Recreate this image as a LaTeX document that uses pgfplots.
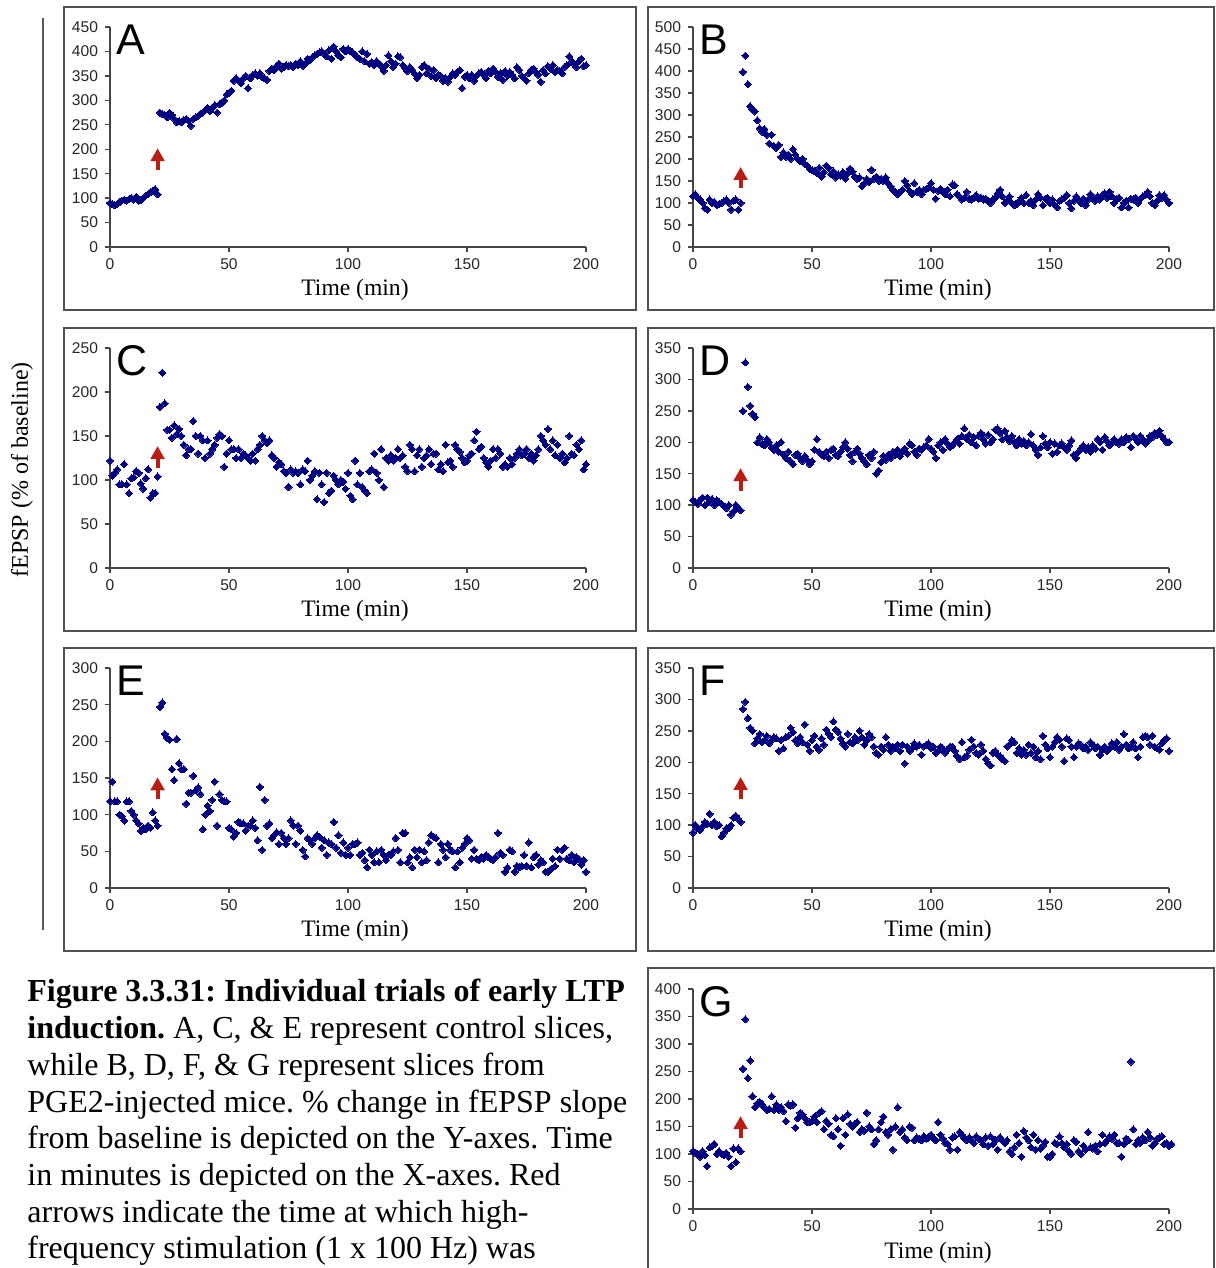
\documentclass[border=0pt]{standalone}
\usepackage{pgfplots}
\pgfplotsset{compat=1.18}
\usepackage{fontspec}
\setmainfont{Liberation Serif}
\newfontfamily\tickfont{Liberation Sans}
\usetikzlibrary{arrows.meta}
\definecolor{navy}{RGB}{0,0,128}
\definecolor{arrowred}{RGB}{185,30,20}
\definecolor{axisgray}{RGB}{70,70,70}
\definecolor{boxgray}{RGB}{80,80,80}
\pgfplotsset{
  panel/.style={
    scale only axis, width=238pt, height=110pt, anchor=south west,
    xmin=0, xmax=200, ymin=0, enlargelimits=false,
    xtick={0,50,...,200},
    axis lines*=left, clip=false,
    axis line style={draw=axisgray, line width=0.7pt},
    tick align=outside, major tick length=2.5pt,
    tick style={draw=axisgray, line width=0.7pt},
    tick label style={font=\tickfont\fontsize{7.8}{9}\selectfont, text=black!85},
    /pgf/number format/assume math mode=true,
    xlabel={Time (min)},
    xlabel style={font=\fontsize{11.8}{13}\selectfont, at={(axis description cs:0.5,0)}, anchor=base, yshift=-24.5pt, xshift=3.5pt},
  },
  pts/.style={only marks, mark=square*, mark size=1.25pt, mark options={rotate=45, fill=navy, draw=navy, line width=0pt}},
}
\newcommand{\letter}[1]{\node[anchor=base west, font=\tickfont\fontsize{21.5}{21.5}\selectfont, inner sep=0pt] at (rel axis cs:0.013,0.873) {#1};}
\newcommand{\harrow}[2]{\draw[-{Triangle[width=6.8pt,length=6.5pt]}, line width=2pt, arrowred] (axis cs:20,#1) -- (axis cs:20,#2);}
\begin{document}
\frenchspacing
\begin{tikzpicture}
\useasboundingbox (0,0) rectangle (607.5pt,634pt);
\clip (0,0) rectangle (607.5pt,634pt);
% boxes
\draw[boxgray, line width=0.9pt] (32pt,479pt) rectangle (318pt,630.5pt);
\draw[boxgray, line width=0.9pt] (324pt,479pt) rectangle (607pt,630.5pt);
\draw[boxgray, line width=0.9pt] (32pt,318.5pt) rectangle (318pt,470pt);
\draw[boxgray, line width=0.9pt] (324pt,318.5pt) rectangle (607pt,470pt);
\draw[boxgray, line width=0.9pt] (32pt,158.5pt) rectangle (318pt,310pt);
\draw[boxgray, line width=0.9pt] (324pt,158.5pt) rectangle (607pt,310pt);
\draw[boxgray, line width=0.9pt] (324pt,-5pt) rectangle (607pt,150pt);
% y label and line
\draw[black!65, line width=0.6pt] (21.5pt,169pt) -- (21.5pt,625pt);
\node[rotate=90, font=\fontsize{12}{14}\selectfont] at (11pt,399pt) {fEPSP (\% of baseline)};
% caption
\begin{scope}[every node/.style={anchor=base west, inner sep=0pt, font=\fontsize{16}{18}\selectfont}]
\node at (13.5pt,133pt) {\textbf{Figure 3.3.31: Individual trials of early LTP}};
\node at (13.5pt,114.65pt) {\textbf{induction.} A, C, \& E represent control slices,};
\node at (13.5pt,96.3pt) {while B, D, F, \& G represent slices from};
\node at (13.5pt,77.95pt) {PGE2-injected mice. \% change in fEPSP slope};
\node at (13.5pt,59.6pt) {from baseline is depicted on the Y-axes. Time};
\node at (13.5pt,41.25pt) {in minutes is depicted on the X-axes. Red};
\node at (13.5pt,22.9pt) {arrows indicate the time at which high-};
\node at (13.5pt,4.55pt) {frequency stimulation (1 x 100 Hz) was};
\end{scope}
% Panel A
\begin{axis}[panel, at={(55pt,510.5pt)}, ymax=450, ytick={0,50,...,450}]
\addplot[pts] table[header=false, x expr=\coordindex, y index=0, row sep=\\] {90\\88\\85\\88\\92\\95\\97\\95\\98\\100\\97\\103\\95\\96\\100\\105\\108\\112\\115\\118\\108\\275\\272\\270\\265\\275\\270\\262\\255\\258\\255\\260\\262\\258\\248\\262\\265\\268\\272\\275\\280\\285\\278\\285\\290\\275\\292\\295\\300\\312\\315\\320\\340\\345\\340\\335\\345\\350\\325\\345\\352\\355\\350\\355\\348\\345\\342\\360\\365\\362\\370\\375\\365\\368\\372\\370\\372\\368\\375\\372\\380\\370\\375\\385\\382\\388\\392\\395\\398\\400\\395\\390\\402\\385\\410\\400\\392\\388\\405\\400\\405\\400\\398\\392\\388\\385\\400\\380\\395\\375\\378\\372\\380\\375\\370\\360\\372\\392\\380\\368\\375\\390\\388\\372\\365\\360\\368\\362\\355\\345\\352\\368\\372\\355\\365\\350\\362\\345\\352\\350\\340\\345\\338\\348\\355\\352\\358\\362\\325\\348\\352\\345\\352\\340\\350\\355\\358\\352\\345\\360\\355\\365\\358\\348\\355\\342\\360\\350\\358\\352\\345\\368\\362\\350\\345\\340\\355\\362\\365\\358\\352\\338\\362\\355\\370\\365\\372\\358\\362\\360\\355\\368\\372\\390\\380\\375\\368\\380\\385\\370\\372\\};
\harrow{157}{202}
\letter{A}
\end{axis}
% Panel B
\begin{axis}[panel, at={(346.5pt,510.5pt)}, ymax=500, ytick={0,50,...,500}]
\addplot[pts] table[header=false, x expr=\coordindex, y index=0, row sep=\\] {115\\120\\112\\108\\100\\88\\85\\108\\100\\102\\95\\98\\100\\104\\108\\100\\85\\105\\108\\85\\100\\398\\435\\370\\320\\312\\308\\288\\270\\262\\268\\255\\235\\255\\230\\225\\232\\205\\215\\205\\210\\200\\222\\210\\200\\195\\200\\188\\185\\178\\175\\172\\168\\180\\160\\170\\185\\180\\165\\172\\158\\165\\162\\170\\155\\168\\178\\172\\160\\155\\158\\138\\145\\155\\148\\175\\155\\160\\150\\155\\150\\158\\145\\138\\130\\125\\120\\125\\130\\150\\140\\128\\120\\145\\125\\130\\120\\130\\132\\135\\145\\130\\110\\128\\132\\125\\120\\130\\115\\142\\140\\120\\115\\108\\112\\125\\110\\108\\112\\118\\110\\112\\108\\110\\105\\100\\108\\112\\122\\130\\115\\100\\105\\115\\100\\95\\98\\105\\112\\100\\118\\100\\105\\95\\108\\120\\112\\95\\110\\112\\100\\108\\95\\90\\105\\108\\112\\118\\100\\88\\105\\115\\108\\100\\110\\95\\108\\120\\112\\105\\115\\108\\118\\122\\112\\125\\115\\100\\108\\112\\90\\100\\105\\90\\110\\108\\112\\100\\110\\115\\118\\125\\115\\100\\95\\105\\118\\112\\118\\108\\100\\};
\harrow{134}{182}
\letter{B}
\end{axis}
% Panel C
\begin{axis}[panel, at={(55pt,350pt)}, ymax=250, ytick={0,50,...,250}]
\addplot[pts] table[header=false, x expr=\coordindex, y index=0, row sep=\\] {122\\105\\108\\112\\95\\95\\118\\95\\85\\102\\103\\110\\108\\96\\90\\102\\112\\80\\85\\85\\104\\183\\222\\187\\157\\157\\148\\162\\152\\158\\150\\140\\128\\135\\135\\167\\150\\130\\150\\145\\125\\145\\130\\135\\140\\148\\152\\150\\115\\130\\145\\135\\135\\125\\135\\125\\130\\128\\125\\122\\130\\122\\135\\140\\150\\145\\142\\145\\128\\125\\115\\120\\118\\110\\108\\92\\112\\108\\110\\108\\95\\112\\110\\122\\100\\105\\110\\78\\108\\95\\75\\108\\85\\88\\105\\100\\95\\100\\98\\90\\108\\82\\78\\122\\95\\108\\92\\88\\85\\110\\112\\130\\108\\100\\135\\92\\125\\122\\128\\122\\125\\135\\125\\128\\115\\110\\140\\135\\110\\128\\135\\115\\125\\128\\135\\118\\130\\130\\112\\118\\110\\140\\120\\122\\115\\140\\135\\132\\125\\120\\122\\128\\130\\145\\155\\135\\138\\125\\120\\115\\122\\135\\125\\135\\130\\115\\118\\115\\125\\118\\125\\130\\135\\128\\130\\135\\125\\130\\122\\128\\135\\150\\145\\140\\158\\135\\145\\128\\140\\125\\130\\120\\125\\150\\130\\128\\140\\135\\145\\112\\118\\};
\harrow{113.6}{138.6}
\letter{C}
\end{axis}
% Panel D
\begin{axis}[panel, at={(346.5pt,350pt)}, ymax=350, ytick={0,50,...,350}]
\addplot[pts] table[header=false, x expr=\coordindex, y index=0, row sep=\\] {108\\105\\102\\108\\112\\100\\112\\105\\110\\100\\108\\105\\102\\98\\95\\100\\85\\90\\100\\95\\92\\250\\327\\288\\258\\245\\240\\200\\208\\198\\195\\205\\200\\192\\188\\195\\185\\200\\180\\175\\185\\170\\165\\180\\182\\175\\170\\178\\172\\165\\170\\188\\205\\185\\180\\178\\185\\175\\188\\190\\180\\178\\185\\192\\200\\190\\180\\170\\185\\190\\182\\175\\170\\165\\180\\175\\185\\150\\155\\168\\178\\172\\180\\175\\185\\180\\188\\178\\185\\190\\182\\198\\195\\185\\180\\190\\188\\192\\195\\205\\190\\185\\175\\195\\200\\188\\205\\198\\192\\195\\200\\205\\198\\210\\222\\205\\212\\200\\208\\195\\210\\215\\205\\198\\212\\200\\205\\220\\222\\215\\205\\218\\208\\202\\210\\200\\195\\205\\198\\202\\195\\200\\213\\195\\188\\180\\192\\210\\198\\192\\200\\182\\198\\185\\195\\198\\192\\188\\195\\203\\180\\175\\185\\190\\195\\188\\192\\185\\195\\190\\205\\200\\188\\208\\202\\195\\198\\205\\200\\198\\205\\200\\208\\205\\192\\210\\205\\200\\210\\205\\198\\202\\210\\208\\215\\212\\218\\210\\205\\200\\200\\};
\harrow{122.5}{159}
\letter{D}
\end{axis}
% Panel E
\begin{axis}[panel, at={(55pt,190pt)}, ymax=300, ytick={0,50,...,300}]
\addplot[pts] table[header=false, x expr=\coordindex, y index=0, row sep=\\] {118\\145\\118\\118\\100\\98\\92\\118\\118\\105\\100\\92\\88\\78\\82\\80\\85\\82\\103\\92\\85\\247\\253\\210\\205\\202\\162\\147\\203\\170\\162\\162\\115\\130\\130\\153\\133\\137\\128\\80\\100\\112\\105\\120\\145\\85\\128\\120\\118\\118\\82\\80\\70\\75\\90\\88\\88\\78\\85\\85\\92\\82\\65\\138\\52\\120\\85\\88\\68\\72\\76\\60\\75\\68\\60\\68\\92\\85\\60\\85\\78\\52\\43\\68\\65\\60\\68\\72\\70\\55\\65\\45\\62\\60\\90\\55\\72\\48\\62\\45\\55\\45\\60\\60\\62\\45\\48\\38\\28\\52\\45\\35\\50\\35\\52\\45\\38\\45\\45\\50\\68\\52\\35\\75\\75\\35\\42\\28\\52\\42\\52\\35\\50\\38\\62\\72\\70\\68\\35\\60\\52\\42\\60\\52\\50\\28\\50\\35\\55\\60\\68\\65\\40\\52\\40\\38\\42\\40\\45\\42\\40\\38\\42\\75\\48\\45\\22\\28\\52\\50\\22\\30\\28\\30\\45\\30\\62\\28\\42\\45\\32\\38\\35\\22\\22\\25\\40\\30\\52\\40\\52\\55\\40\\38\\45\\35\\42\\40\\32\\38\\22\\};
\harrow{121}{151}
\letter{E}
\end{axis}
% Panel F
\begin{axis}[panel, at={(346.5pt,190pt)}, ymax=350, ytick={0,50,...,350}]
\addplot[pts] table[header=false, x expr=\coordindex, y index=0, row sep=\\] {88\\100\\95\\92\\98\\105\\102\\118\\100\\105\\98\\100\\82\\88\\95\\95\\100\\112\\115\\110\\105\\285\\296\\270\\255\\250\\230\\238\\245\\232\\235\\242\\230\\235\\240\\238\\218\\235\\222\\240\\242\\255\\248\\235\\230\\240\\232\\260\\228\\218\\235\\242\\225\\220\\238\\228\\252\\245\\240\\265\\252\\248\\238\\230\\225\\245\\232\\230\\240\\235\\250\\240\\228\\235\\245\\240\\225\\215\\212\\225\\220\\240\\228\\218\\225\\222\\228\\218\\228\\198\\225\\218\\222\\230\\225\\228\\212\\225\\228\\230\\222\\225\\215\\218\\225\\222\\215\\220\\225\\225\\218\\210\\205\\232\\208\\210\\220\\236\\225\\215\\212\\228\\218\\205\\198\\195\\215\\218\\212\\210\\205\\202\\225\\228\\235\\232\\215\\222\\212\\220\\212\\228\\215\\225\\208\\218\\205\\242\\228\\222\\208\\225\\232\\240\\236\\225\\202\\238\\235\\225\\208\\225\\230\\228\\222\\225\\220\\232\\228\\222\\225\\212\\220\\225\\218\\222\\230\\225\\232\\220\\225\\245\\228\\222\\225\\232\\222\\208\\225\\240\\242\\240\\228\\242\\225\\222\\220\\230\\235\\238\\218\\};
\harrow{141.6}{176.6}
\letter{F}
\end{axis}
% Panel G
\begin{axis}[panel, at={(346.5pt,29.5pt)}, ymax=400, ytick={0,50,...,400}]
\addplot[pts] table[header=false, x expr=\coordindex, y index=0, row sep=\\] {105\\102\\100\\95\\105\\98\\78\\112\\115\\118\\100\\105\\100\\98\\102\\95\\78\\110\\85\\110\\105\\255\\345\\238\\270\\205\\185\\192\\195\\190\\185\\180\\182\\205\\180\\190\\180\\185\\178\\160\\190\\188\\190\\148\\165\\175\\172\\165\\158\\158\\160\\168\\158\\175\\178\\145\\160\\155\\135\\132\\165\\145\\115\\165\\135\\172\\155\\150\\155\\158\\140\\145\\142\\175\\150\\145\\118\\125\\145\\158\\168\\140\\135\\145\\108\\150\\185\\140\\145\\130\\125\\150\\148\\125\\130\\128\\125\\132\\128\\130\\135\\128\\125\\158\\135\\128\\120\\118\\108\\130\\132\\108\\140\\135\\128\\125\\130\\125\\120\\132\\128\\125\\118\\130\\115\\132\\118\\125\\108\\130\\125\\120\\125\\105\\100\\112\\135\\120\\95\\142\\130\\125\\112\\135\\108\\125\\110\\115\\122\\95\\95\\100\\120\\118\\132\\120\\112\\118\\105\\100\\125\\122\\105\\100\\115\\108\\140\\112\\110\\115\\105\\118\\135\\120\\125\\132\\128\\135\\120\\120\\95\\118\\128\\125\\268\\145\\118\\125\\120\\130\\125\\140\\130\\115\\120\\128\\130\\132\\118\\120\\115\\118\\};
\harrow{129}{169}
\letter{G}
\end{axis}
\end{tikzpicture}
\end{document}
